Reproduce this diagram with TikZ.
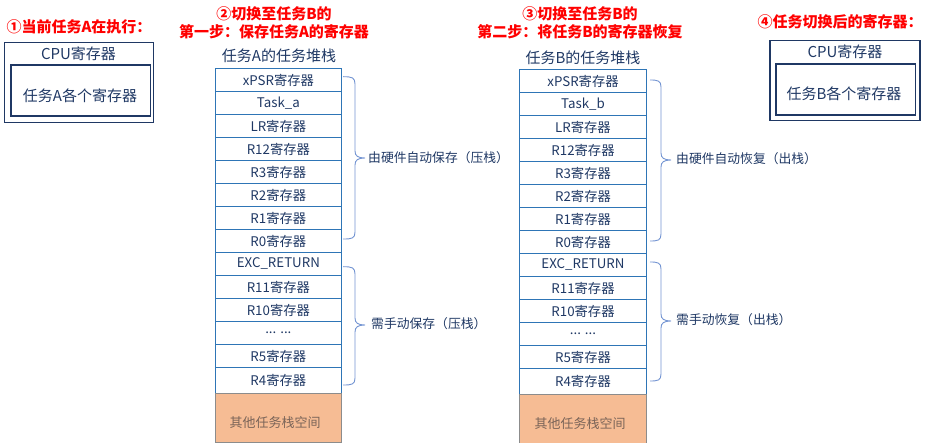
\documentclass[tikz,border=0pt]{standalone}
\usepackage{fontspec}
\setmainfont{Noto Sans CJK SC}
\definecolor{navy}{HTML}{1F3864}
\definecolor{stackblue}{HTML}{2E75B6}
\definecolor{bracec}{HTML}{7394D2}
\definecolor{orangef}{HTML}{F6BC94}
\definecolor{orangeb}{HTML}{8C8C8C}
\definecolor{orangetxt}{HTML}{7A6458}
\newcommand{\mydots}{.{}.{}. .{}.{}.}
\begin{document}
\begin{tikzpicture}[x=1pt,y=-1pt,
  title/.style={text=red,font=\fontsize{15}{17}\selectfont\bfseries,inner sep=0pt,align=center},
  txt/.style={text=navy,inner sep=0pt},
  row/.style={draw=stackblue,line width=0.9pt,minimum width=126.7pt,inner sep=0pt,text=navy,font=\fontsize{13.3}{15}\selectfont,anchor=north},
  other/.style={draw=orangeb,fill=orangef,line width=0.9pt,minimum width=126.7pt,inner sep=0pt,anchor=north},
  othertxt/.style={text=orangetxt,font=\fontsize{13}{15}\selectfont,inner sep=0pt},
  cpubox/.style={draw=navy,line width=1.3pt},
  brace/.style={draw=bracec,line width=0.9pt},
  bracelbl/.style={text=navy,font=\fontsize{12.8}{14}\selectfont,inner sep=0pt,anchor=west}]
\useasboundingbox (0,0) rectangle (938,443);

% titles
\node[title] (t1) at (79,26.7) {①当前任务A在执行：};
\node[title] (t2a) at (274,14) {②切换至任务B的};
\node[title] (t2b) at (274,31.7) {第一步：保存任务A的寄存器};
\node[title] (t3a) at (580,14) {③切换至任务B的};
\node[title] (t3b) at (580,31.7) {第二步：将任务B的寄存器恢复};
\node[title] (t4) at (840,21.7) {④任务切换后的寄存器：};

% CPU boxes
\draw[cpubox] (4.3,42.3) rectangle (153.3,122.3);
\draw[cpubox] (11,65) rectangle (150.7,116);
\node[txt,font=\fontsize{15}{17}\selectfont] (cpuA) at (78.5,53.3) {CPU寄存器};
\node[txt,font=\fontsize{15}{17}\selectfont] (regA) at (80,95.7) {任务A各个寄存器};

\draw[cpubox] (770,40.7) rectangle (920,120.7);
\draw[cpubox] (776,64) rectangle (915.7,115);
\node[txt,font=\fontsize{15}{17}\selectfont] (cpuB) at (845,51.7) {CPU寄存器};
\node[txt,font=\fontsize{15}{17}\selectfont] (regB) at (844,93.3) {任务B各个寄存器};

% stack titles
\node[txt,font=\fontsize{15}{17}\selectfont] (sA) at (279,56) {任务A的任务堆栈};
\node[txt,font=\fontsize{15}{17}\selectfont] (sB) at (583,57.3) {任务B的任务堆栈};

% left stack
\foreach \t [count=\i] in {xPSR寄存器,Task\_a,LR寄存器,R12寄存器,R3寄存器,R2寄存器,R1寄存器,R0寄存器,EXC\_RETURN,R11寄存器,R10寄存器,\mydots,R5寄存器}
  \node[row,minimum height=23pt] (A\i) at (278.35,{68+23*(\i-1)}) {\t};
\node[row,minimum height=26.3pt] (A14) at (278.35,367) {R4寄存器};
\node[other,minimum height=48.4pt] (A15) at (278.35,393.3) {};
\node[othertxt] (A15t) at (275,422.5) {其他任务栈空间};

% right stack
\foreach \t [count=\i] in {xPSR寄存器,Task\_b,LR寄存器,R12寄存器,R3寄存器,R2寄存器,R1寄存器,R0寄存器,EXC\_RETURN,R11寄存器,R10寄存器,\mydots,R5寄存器}
  \node[row,minimum height=23pt] (B\i) at (583,{69+23*(\i-1)}) {\t};
\node[row,minimum height=26.3pt] (B14) at (583,368) {R4寄存器};
\node[other,minimum height=48.4pt] (B15) at (583,394.3) {};
\node[othertxt] (B15t) at (580,423.5) {其他任务栈空间};

% braces left
\draw[brace] (343,76.7) .. controls (352,76.7) and (355,77.5) .. (355,84) -- (355,151)
  .. controls (355,156) and (358,158) .. (365,158) .. controls (358,158) and (355,160) .. (355,165)
  -- (355,232) .. controls (355,238.5) and (352,239) .. (343,239);
\node[bracelbl] (hA) at (368,158) {由硬件自动保存（压栈）};
\draw[brace] (343,266.7) .. controls (352,266.7) and (355,267.5) .. (355,274) -- (355,318)
  .. controls (355,323) and (358,325) .. (365,325) .. controls (358,325) and (355,327) .. (355,332)
  -- (355,378) .. controls (355,384.5) and (352,385) .. (343,385);
\node[bracelbl] (mA) at (371,324) {需手动保存（压栈）};

% braces right
\draw[brace] (650,80) .. controls (658,80) and (661,80.8) .. (661,87) -- (661,153)
  .. controls (661,158) and (664,160) .. (671,160) .. controls (664,160) and (661,162) .. (661,167)
  -- (661,234) .. controls (661,240.5) and (658,241) .. (650,241);
\node[bracelbl] (hB) at (676,159) {由硬件自动恢复（出栈）};
\draw[brace] (650,262) .. controls (658,262) and (661,262.8) .. (661,269) -- (661,314)
  .. controls (661,319) and (664,321) .. (671,321) .. controls (664,321) and (661,323) .. (661,328)
  -- (661,374) .. controls (661,380.5) and (658,381) .. (650,381);
\node[bracelbl] (mB) at (676,320) {需手动恢复（出栈）};
\end{tikzpicture}
\end{document}
